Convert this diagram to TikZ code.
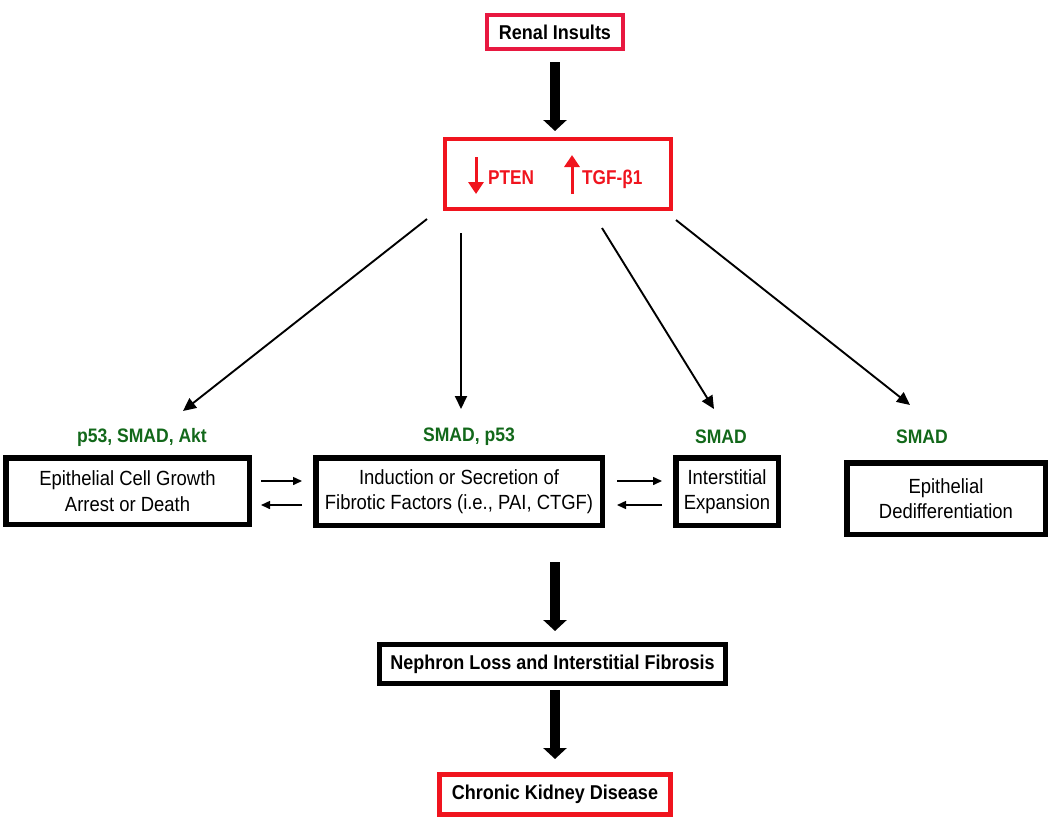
\documentclass[tikz,border=0pt]{standalone}
\usepackage{fontspec}
\setmainfont{Liberation Sans}
\newfontfamily\narrowfont[FakeStretch=0.9]{Liberation Sans}
\newfontfamily\redfont[FakeStretch=0.86]{Liberation Sans}
\usetikzlibrary{arrows.meta}
\definecolor{crim}{RGB}{232,24,64}
\definecolor{pred}{RGB}{240,20,30}
\definecolor{dgreen}{RGB}{18,104,26}
\begin{document}
\begin{tikzpicture}[x=1pt,y=-1pt,
  box/.style={draw=black,line width=5.5pt,inner sep=0pt,align=center,font=\narrowfont\fontsize{20.5}{25.5}\selectfont},
  redbox/.style={draw=pred,line width=4.5pt,inner sep=0pt,font=\narrowfont\fontsize{20}{22}\selectfont\bfseries},
  boldbox/.style={draw=black,line width=5pt,inner sep=0pt,font=\narrowfont\fontsize{20}{22}\selectfont\bfseries},
  glabel/.style={text=dgreen,font=\narrowfont\fontsize{19.5}{22}\selectfont\bfseries,inner sep=0pt},
  redtext/.style={text=pred,font=\redfont\fontsize{20}{22}\selectfont\bfseries,inner sep=0pt,anchor=base west},
  thickarrow/.style={line width=9.5pt,-{Triangle[width=23pt,length=11pt]}},
  thinarrow/.style={line width=1.9pt,-{Triangle[width=12pt,length=13pt]}},
  smallarrow/.style={line width=1.5pt,-{Triangle[width=8pt,length=9pt]}},
  redarrow/.style={draw=pred,line width=3pt,-{Triangle[width=15pt,length=12pt]}}]
\useasboundingbox (0,0) rectangle (1050,820);

% top
\node[redbox,draw=crim,line width=4pt,minimum width=136pt,minimum height=34pt] (renal) at (555,32) {Renal Insults};
\node[redbox,line width=4pt,minimum width=226pt,minimum height=70pt] (pten) at (558,174) {};
\node[redtext] (ptentxt) at (488,184) {PTEN};
\node[redtext] (tgftxt) at (582,184) {TGF-β1};
\coordinate (da1) at (476,157); \coordinate (da2) at (476,194);
\coordinate (ua1) at (572,194); \coordinate (ua2) at (572,155);
\draw[redarrow] (da1) -- (da2);
\draw[redarrow] (ua1) -- (ua2);

\draw[thickarrow,shorten <=11pt,shorten >=6pt] (renal.south) -- (renal.south |- pten.north);

% middle boxes
\node[box,minimum width=243.5pt,minimum height=66.5pt] (b1) at (127.5,491) {Epithelial Cell Growth\\Arrest or Death};
\node[box,minimum width=286.5pt,minimum height=67.5pt] (b2) at (459,491.5) {Induction or Secretion of\\Fibrotic Factors (i.e., PAI, CTGF)};
\node[box,minimum width=102.5pt,minimum height=67.5pt] (b3) at (727,491.5) {Interstitial\\Expansion};
\node[box,minimum width=198.5pt,minimum height=71.5pt] (b4) at (946,498.5) {Epithelial\\Dedifferentiation};

% green labels
\node[glabel] (l1) at (142,437) {p53, SMAD, Akt};
\node[glabel] (l2) at (469,437) {SMAD, p53};
\node[glabel] (l3) at (721,437) {SMAD};
\node[glabel] (l4) at (922,437) {SMAD};

% diagonal arrows
\coordinate (s1) at (427,219); \coordinate (t1) at (183,411);
\coordinate (s2) at (461,233); \coordinate (t2) at (461,409);
\coordinate (s3) at (602,228); \coordinate (t3) at (714,409);
\coordinate (s4) at (676,220); \coordinate (t4) at (910,405);
\draw[thinarrow] (s1) -- (t1);
\draw[thinarrow] (s2) -- (t2);
\draw[thinarrow] (s3) -- (t3);
\draw[thinarrow] (s4) -- (t4);

% small exchange arrows
\coordinate (r1) at (0,481); \coordinate (r2) at (0,505);
\draw[smallarrow,shorten <=9pt,shorten >=11pt] (b1.east |- r1) -- (b2.west |- r1);
\draw[smallarrow,shorten <=11pt,shorten >=9pt] (b2.west |- r2) -- (b1.east |- r2);
\draw[smallarrow,shorten <=12pt,shorten >=11pt] (b2.east |- r1) -- (b3.west |- r1);
\draw[smallarrow,shorten <=11pt,shorten >=12pt] (b3.west |- r2) -- (b2.east |- r2);

% bottom
\node[boldbox,minimum width=346pt,minimum height=39pt] (neph) at (552.5,664) {Nephron Loss and Interstitial Fibrosis};
\node[redbox,line width=5pt,minimum width=231pt,minimum height=40pt] (ckd) at (555,794.5) {Chronic Kidney Disease};

\coordinate (c2) at (555,562);
\draw[thickarrow,shorten >=11pt] (c2) -- (c2 |- neph.north);
\draw[thickarrow,shorten <=4pt,shorten >=13pt] (ckd.north |- neph.south) -- (ckd.north);
\end{tikzpicture}
\end{document}
